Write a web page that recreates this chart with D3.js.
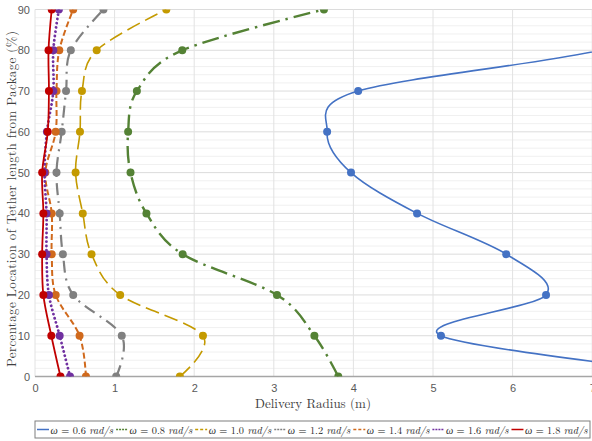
<!DOCTYPE html>
<html>
<head>
<meta charset="utf-8">
<script src="https://cdn.jsdelivr.net/npm/d3@7"></script>
<style>
  html, body { margin: 0; padding: 0; background: #fff; }
  svg { display: block; }
</style>
</head>
<body>
<svg id="chart" width="592" height="441"></svg>
<script>
// Location along the tether (%) at which each radius was sampled
const percent = [0, 10, 20, 30, 40, 50, 60, 70, 80, 90];

// Delivery radius (m) for each spin rate
const w06 = [8.6, 5.10, 6.42, 5.92, 4.80, 3.97, 3.67, 4.06, 7.1, 8.6];
const w08 = [3.81, 3.51, 3.04, 1.855, 1.40, 1.20, 1.17, 1.28, 1.85, 3.63];
const w10 = [1.82, 2.11, 1.07, 0.71, 0.60, 0.51, 0.565, 0.59, 0.775, 1.65];
const w12 = [1.02, 1.09, 0.48, 0.35, 0.31, 0.27, 0.335, 0.39, 0.45, 0.86];
const w14 = [0.64, 0.56, 0.26, 0.21, 0.21, 0.13, 0.26, 0.27, 0.305, 0.48];
const w16 = [0.44, 0.31, 0.175, 0.145, 0.145, 0.12, 0.15, 0.23, 0.23, 0.30];
const w18 = [0.32, 0.205, 0.105, 0.09, 0.105, 0.09, 0.16, 0.175, 0.17, 0.21];

const seriesNames = ["0.6", "0.8", "1.0", "1.2", "1.4", "1.6", "1.8"];
const seriesValues = [w06, w08, w10, w12, w14, w16, w18];

const xTicks = [0, 1, 2, 3, 4, 5, 6, 7];
const yTicks = [0, 10, 20, 30, 40, 50, 60, 70, 80, 90];

const styles = [
  { color: "#4472C4", width: 1.6, dash: null,           cap: "butt"  },
  { color: "#548235", width: 2.4, dash: "17,6,2.5,6",   cap: "butt"  },
  { color: "#C49A00", width: 1.6, dash: "14,6",         cap: "butt"  },
  { color: "#808080", width: 2.2, dash: "12,6,2,6",     cap: "butt"  },
  { color: "#D0691C", width: 2.0, dash: "6,3",          cap: "butt"  },
  { color: "#7030A0", width: 2.8, dash: "0.1,4.2",      cap: "round" },
  { color: "#C00000", width: 1.8, dash: null,           cap: "butt"  }
];

const svg = d3.select("#chart");
const plotL = 35, plotR = 592.2, plotT = 9.5, plotB = 376.5;

const x = d3.scaleLinear().domain([0, 7]).range([plotL, plotR]);
const y = d3.scaleLinear().domain([0, 90]).range([plotB, plotT]);

// clip region for the plotting area
svg.append("defs").append("clipPath").attr("id", "plot-clip")
  .append("rect").attr("x", plotL).attr("y", plotT)
  .attr("width", plotR - plotL).attr("height", plotB - plotT);

// minor horizontal grid every 2 %
const grid = svg.append("g");
grid.selectAll(".minor").data(d3.range(0, 91, 2).filter(v => v % 10 !== 0))
  .join("line").attr("class", "minor")
  .attr("x1", plotL).attr("x2", plotR)
  .attr("y1", d => y(d)).attr("y2", d => y(d))
  .attr("stroke", "#F0F0F0").attr("stroke-width", 1);

// major horizontal grid
grid.selectAll(".major").data(yTicks.filter(v => v > 0))
  .join("line").attr("class", "major")
  .attr("x1", plotL).attr("x2", plotR)
  .attr("y1", d => y(d)).attr("y2", d => y(d))
  .attr("stroke", "#DCDCDC").attr("stroke-width", 1);

// vertical grid
grid.selectAll(".vgrid").data(xTicks)
  .join("line").attr("class", "vgrid")
  .attr("x1", d => x(d)).attr("x2", d => x(d))
  .attr("y1", plotT).attr("y2", plotB)
  .attr("stroke", "#E2E2E2").attr("stroke-width", 1);

// bottom axis line
svg.append("line")
  .attr("x1", plotL).attr("x2", plotR)
  .attr("y1", plotB).attr("y2", plotB)
  .attr("stroke", "#A6A6A6").attr("stroke-width", 1.5);

// tick labels
const tickFont = "'Liberation Sans Narrow', 'Arial Narrow', 'Liberation Sans', sans-serif";
const xAxis = d3.axisBottom(x).tickValues(xTicks).tickSize(0).tickPadding(8).tickFormat(d3.format("d"));
const gx = svg.append("g").attr("transform", `translate(0,${plotB})`).call(xAxis);
gx.select(".domain").remove();
gx.selectAll("text").attr("font-family", tickFont).attr("font-size", 11).attr("fill", "#595959");

const yAxis = d3.axisLeft(y).tickValues(yTicks).tickSize(0).tickPadding(4).tickFormat(d3.format("d"));
const gy = svg.append("g").attr("transform", `translate(${plotL - 1},0)`).call(yAxis);
gy.select(".domain").remove();
gy.selectAll("text").attr("font-family", tickFont).attr("font-size", 11).attr("fill", "#595959");

// axis titles
const titleFont = "'Latin Modern Roman', 'CMU Serif', 'Liberation Serif', serif";
svg.append("text")
  .attr("x", 313).attr("y", 408)
  .attr("text-anchor", "middle")
  .attr("font-family", titleFont).attr("font-size", 13).attr("fill", "#404040")
  .text("Delivery Radius (m)");

svg.append("text")
  .attr("transform", "translate(16,199) rotate(-90)")
  .attr("text-anchor", "middle")
  .attr("font-family", titleFont).attr("font-size", 13).attr("fill", "#404040")
  .attr("textLength", 336).attr("lengthAdjust", "spacing")
  .text("Percentage Location of Tether length from Package (%)");

// series
const line = d3.line()
  .x(d => x(d[0])).y(d => y(d[1]))
  .curve(d3.curveCardinal.tension(0));

const plot = svg.append("g").attr("clip-path", "url(#plot-clip)");

seriesValues.forEach((vals, i) => {
  const st = styles[i];
  const pts = vals.map((v, j) => [v, percent[j]]);
  const g = plot.append("g");
  g.append("path")
    .attr("d", line(pts))
    .attr("fill", "none")
    .attr("stroke", st.color)
    .attr("stroke-width", st.width)
    .attr("stroke-dasharray", st.dash)
    .attr("stroke-linecap", st.cap);
  g.selectAll("circle").data(pts).join("circle")
    .attr("cx", d => x(d[0])).attr("cy", d => y(d[1]))
    .attr("r", 4)
    .attr("fill", st.color);
});

// legend: one row of entries, sized to fill the framed box
const legend = svg.append("g");
const lx0 = 35, lx1 = 590, ly0 = 421, ly1 = 438;
const lcy = (ly0 + ly1) / 2;
legend.append("rect")
  .attr("x", lx0).attr("y", ly0).attr("width", lx1 - lx0).attr("height", ly1 - ly0)
  .attr("fill", "#fff").attr("stroke", "#7F7F7F").attr("stroke-width", 1);

const symW = 12, symGap = 1.5, entryGap = 3;
const labels = seriesNames.map((name, i) => {
  const t = legend.append("text")
    .attr("y", lcy + 4)
    .attr("font-family", titleFont).attr("font-size", 12).attr("fill", "#262626");
  t.append("tspan").attr("font-style", "italic").text("ω");
  t.append("tspan").text(" = " + name + " ");
  t.append("tspan").attr("font-style", "italic").text("rad/s");
  return t;
});
const natural = labels.map(t => t.node().getComputedTextLength());
const avail = (lx1 - lx0 - 4) - seriesNames.length * (symW + symGap) - (seriesNames.length - 1) * entryGap;
const fs = 12 * avail / d3.sum(natural);
labels.forEach(t => t.attr("font-size", fs));

let cursor = lx0 + 2;
seriesNames.forEach((name, i) => {
  const st = styles[i];
  legend.append("line")
    .attr("x1", cursor).attr("x2", cursor + symW)
    .attr("y1", lcy).attr("y2", lcy)
    .attr("stroke", st.color)
    .attr("stroke-width", 1.5)
    .attr("stroke-dasharray", i === 0 || i === 6 ? null : (i === 2 || i === 4 ? "3,2" : "2,1"));
  cursor += symW + symGap;
  labels[i].attr("x", cursor);
  cursor += labels[i].node().getComputedTextLength() + entryGap;
});
</script>
</body>
</html>
